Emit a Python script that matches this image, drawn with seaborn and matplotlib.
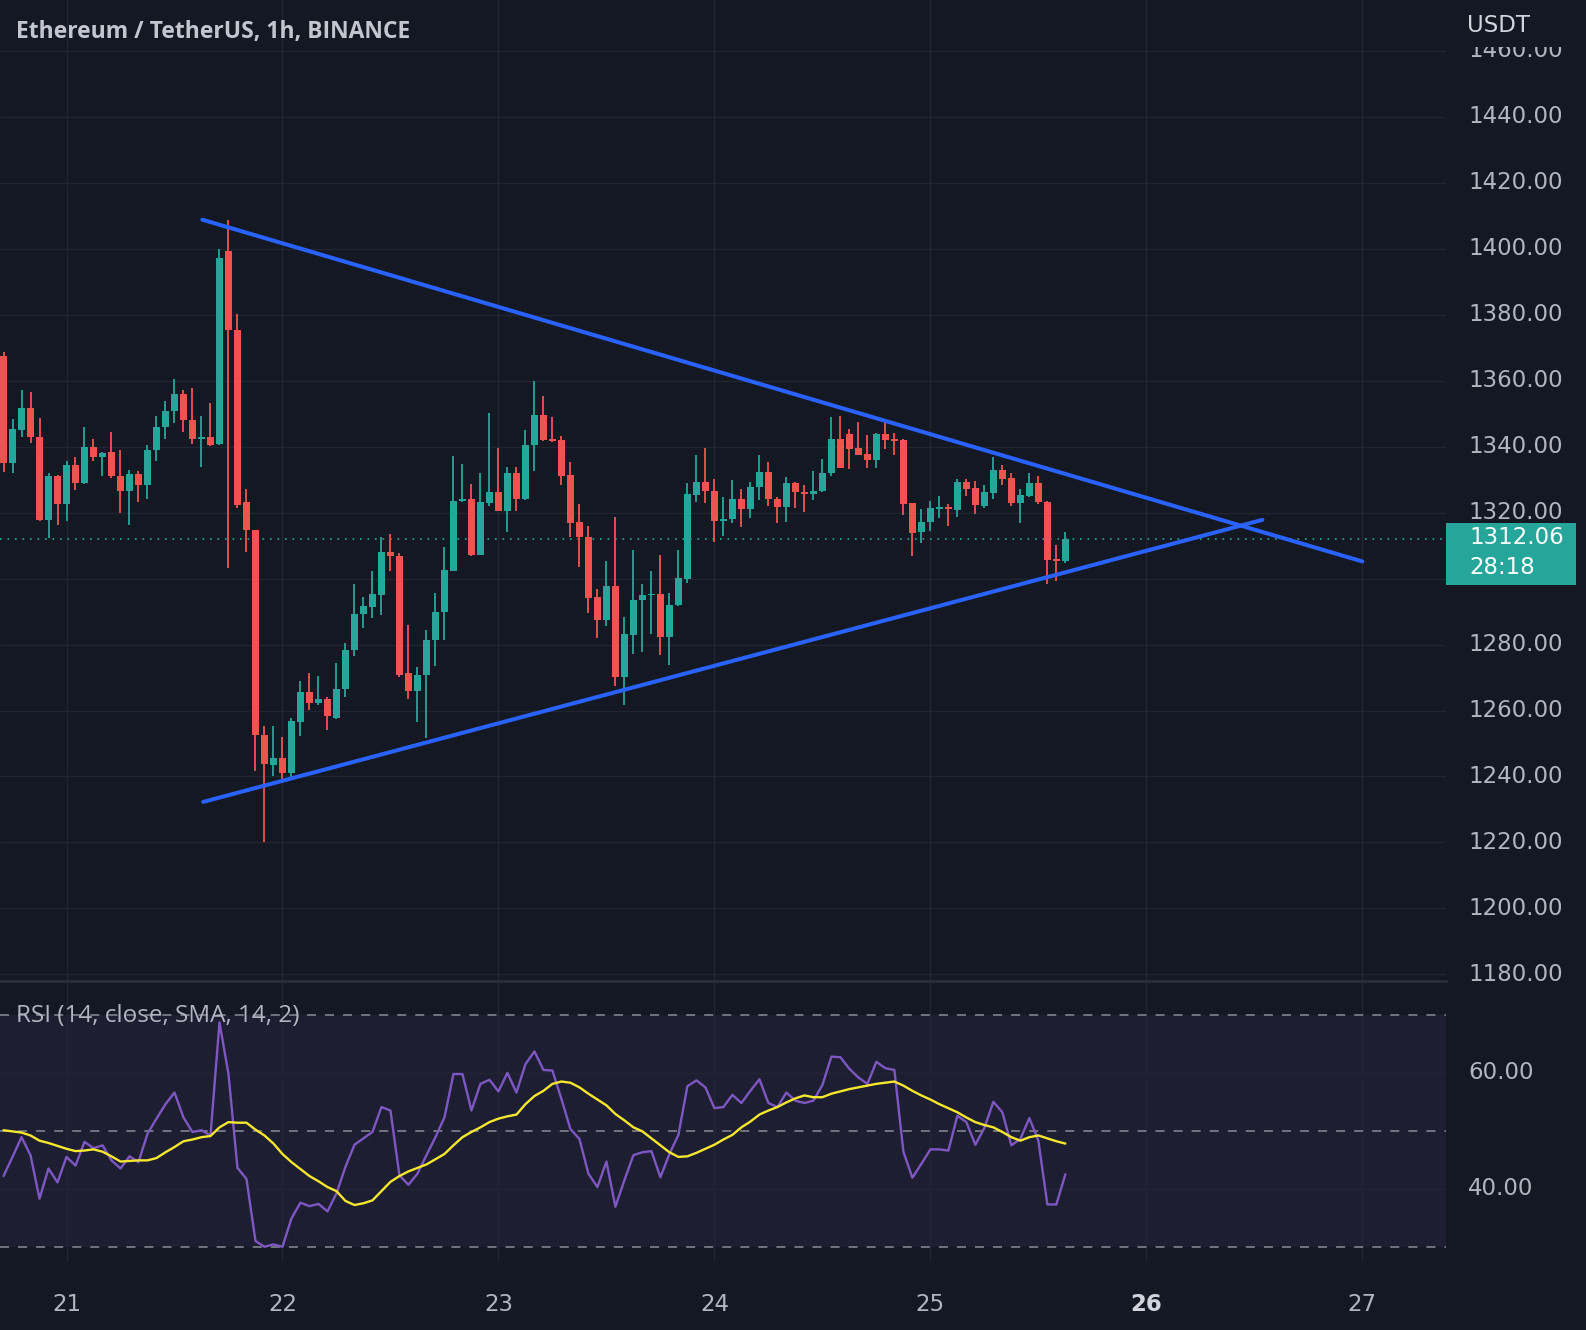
import numpy as np
import pandas as pd
import seaborn as sns
import matplotlib.pyplot as plt
from matplotlib.patches import Rectangle

# ETH/USDT 1h candles (Binance), first candle = 20 Oct 17:00
# x axis is counted in hours from 21 Oct 00:00
first_hour = -7

opens = [1367.4, 1335.0, 1345.0, 1351.8, 1343.0, 1317.8, 1331.0, 1322.5, 1334.3, 1328.9,
         1339.9, 1336.8, 1338.3, 1331.0, 1326.6, 1331.7, 1328.5, 1338.9, 1346.0, 1350.8,
         1356.1, 1348.1, 1342.3, 1343.0, 1340.8, 1399.4, 1375.3, 1323.2, 1314.8, 1252.7,
         1243.5, 1245.5, 1241.0, 1256.4, 1265.5, 1262.4, 1263.4, 1257.7, 1266.5, 1278.2,
         1289.3, 1291.5, 1295.1, 1308.2, 1306.9, 1271.3, 1265.8, 1270.8, 1281.4, 1289.8,
         1302.4, 1323.4, 1324.0, 1307.2, 1322.8, 1326.2, 1320.6, 1331.9, 1324.0, 1340.5,
         1349.6, 1342.2, 1342.0, 1331.4, 1317.1, 1312.5, 1294.5, 1287.3, 1297.8, 1270.3,
         1282.9, 1293.5, 1294.9, 1295.3, 1282.2, 1292.0, 1299.8, 1325.4, 1329.4, 1326.7,
         1317.6, 1318.0, 1324.0, 1321.2, 1327.7, 1332.2, 1324.0, 1321.8, 1328.9, 1326.2,
         1325.6, 1326.6, 1331.9, 1342.4, 1343.7, 1339.7, 1337.7, 1336.0, 1343.7, 1342.2,
         1342.0, 1322.8, 1314.1, 1317.0, 1321.2, 1321.8, 1320.8, 1329.3, 1327.6, 1322.0,
         1325.9, 1332.9, 1330.6, 1322.8, 1325.1, 1329.1, 1323.2, 1305.9, 1305.4]
highs = [1368.6, 1348.3, 1357.3, 1356.5, 1348.7, 1332.0, 1331.4, 1335.5, 1336.8, 1345.8,
         1342.4, 1338.3, 1344.5, 1338.9, 1333.0, 1332.6, 1340.4, 1349.3, 1353.7, 1360.6,
         1357.1, 1357.7, 1349.3, 1353.3, 1400.0, 1408.8, 1380.3, 1327.2, 1314.8, 1255.2,
         1255.2, 1252.0, 1257.7, 1268.8, 1271.3, 1270.5, 1264.0, 1274.5, 1280.4, 1298.4,
         1294.5, 1302.4, 1312.5, 1313.5, 1307.7, 1286.0, 1273.3, 1284.4, 1295.6, 1309.5,
         1337.2, 1334.7, 1328.7, 1331.9, 1350.1, 1339.5, 1333.7, 1333.7, 1345.1, 1360.0,
         1355.4, 1348.9, 1343.2, 1335.4, 1322.5, 1315.8, 1296.8, 1305.4, 1318.8, 1288.3,
         1308.7, 1298.4, 1302.4, 1307.2, 1295.6, 1308.7, 1328.9, 1337.5, 1339.5, 1330.1,
         1324.6, 1329.9, 1327.2, 1329.4, 1337.5, 1335.2, 1324.8, 1330.7, 1329.4, 1328.4,
         1332.6, 1336.4, 1349.1, 1349.3, 1345.3, 1347.5, 1343.4, 1344.2, 1348.1, 1344.0,
         1342.2, 1322.8, 1321.0, 1323.5, 1325.1, 1322.5, 1330.1, 1330.1, 1329.6, 1328.3,
         1337.0, 1334.3, 1332.1, 1327.1, 1331.9, 1331.1, 1323.5, 1310.1, 1314.1]
lows = [1332.2, 1332.0, 1343.0, 1341.0, 1317.6, 1312.2, 1316.1, 1317.4, 1327.0, 1328.7,
        1335.5, 1331.0, 1330.5, 1319.8, 1316.3, 1323.2, 1324.2, 1335.5, 1342.3, 1347.3,
        1344.3, 1340.8, 1333.9, 1340.1, 1340.5, 1303.1, 1321.3, 1308.2, 1241.6, 1220.0,
        1240.1, 1238.0, 1239.5, 1252.3, 1260.2, 1261.7, 1254.2, 1257.4, 1264.2, 1276.4,
        1285.0, 1288.0, 1289.0, 1302.4, 1270.1, 1263.4, 1256.4, 1251.7, 1273.5, 1281.4,
        1302.2, 1323.3, 1306.7, 1307.2, 1322.0, 1320.6, 1314.2, 1320.6, 1323.8, 1332.7,
        1341.8, 1341.4, 1328.4, 1312.7, 1303.6, 1289.5, 1281.9, 1285.5, 1267.5, 1261.7,
        1277.2, 1277.6, 1283.2, 1276.9, 1273.8, 1291.7, 1298.8, 1323.3, 1323.0, 1311.2,
        1312.9, 1316.8, 1315.6, 1318.3, 1323.8, 1322.0, 1316.8, 1317.0, 1321.3, 1320.3,
        1323.8, 1326.3, 1331.1, 1333.4, 1333.1, 1337.4, 1333.6, 1333.6, 1339.4, 1337.4,
        1319.2, 1306.7, 1310.7, 1314.4, 1318.5, 1316.0, 1318.8, 1325.1, 1319.5, 1321.5,
        1324.2, 1328.3, 1322.0, 1316.8, 1324.8, 1322.5, 1298.3, 1299.3, 1304.8]
closes = [1335.0, 1345.2, 1351.8, 1342.8, 1317.8, 1331.0, 1322.5, 1334.3, 1328.9, 1339.9,
          1336.8, 1338.0, 1331.0, 1326.6, 1331.7, 1328.5, 1338.9, 1346.0, 1350.8, 1356.1,
          1348.1, 1342.3, 1343.0, 1340.5, 1397.2, 1375.3, 1322.2, 1314.8, 1252.7, 1243.8,
          1245.7, 1241.0, 1256.7, 1265.5, 1262.4, 1263.4, 1258.2, 1266.5, 1278.4, 1289.3,
          1291.7, 1295.4, 1308.2, 1306.7, 1270.8, 1265.8, 1270.8, 1281.4, 1289.8, 1302.6,
          1323.5, 1324.0, 1307.2, 1323.1, 1326.2, 1320.6, 1331.9, 1324.0, 1340.5, 1349.6,
          1342.0, 1341.6, 1331.1, 1316.8, 1312.5, 1294.2, 1287.3, 1297.8, 1270.3, 1283.2,
          1293.5, 1295.0, 1295.3, 1282.2, 1292.0, 1300.1, 1325.7, 1329.4, 1326.7, 1317.6,
          1318.2, 1324.0, 1321.2, 1327.7, 1332.2, 1324.0, 1321.8, 1328.9, 1326.1, 1325.6,
          1326.7, 1331.9, 1342.4, 1333.6, 1339.4, 1337.4, 1336.0, 1343.9, 1342.0, 1341.7,
          1322.5, 1313.9, 1317.0, 1321.5, 1321.8, 1321.0, 1329.3, 1327.3, 1322.2, 1326.1,
          1332.9, 1330.1, 1322.8, 1325.3, 1329.1, 1323.2, 1305.7, 1305.4, 1312.06]

# RSI(14) and its SMA(14), one value per candle
rsi = [42.2, 45.5, 48.9, 45.8, 38.3, 43.5, 41.1, 45.5, 44.0, 48.1,
       47.0, 47.5, 44.9, 43.5, 45.6, 44.6, 49.5, 52.1, 54.6, 56.6,
       52.3, 49.8, 50.1, 49.2, 68.7, 59.8, 43.6, 41.7, 31.0, 30.0,
       30.4, 30.0, 34.9, 37.6, 37.0, 37.4, 36.1, 39.2, 43.8, 47.6,
       48.7, 49.8, 54.1, 53.5, 42.3, 40.7, 42.6, 45.8, 48.9, 52.3,
       59.8, 59.8, 53.5, 58.1, 58.8, 56.8, 60.0, 56.6, 61.5, 63.7,
       60.5, 60.4, 55.5, 50.3, 48.6, 42.6, 40.3, 44.7, 36.9, 41.5,
       45.8, 46.3, 46.5, 42.0, 46.0, 49.3, 57.7, 58.7, 57.5, 53.9,
       54.1, 56.2, 54.8, 56.9, 58.9, 54.8, 54.1, 56.6, 55.2, 54.8,
       55.2, 57.9, 62.8, 62.7, 60.7, 59.2, 58.1, 61.9, 60.8, 60.5,
       46.4, 41.9, 44.3, 46.8, 46.8, 46.6, 52.6, 51.5, 47.6, 50.5,
       55.0, 53.2, 47.5, 48.6, 52.2, 48.3, 37.3, 37.3, 42.5]
rsi_ma = [50.1, 49.9, 49.7, 49.2, 48.3, 47.9, 47.4, 46.9, 46.5, 46.6,
          46.8, 46.4, 45.6, 44.7, 44.8, 44.9, 44.9, 45.3, 46.3, 47.2,
          48.2, 48.5, 48.9, 49.1, 50.6, 51.5, 51.4, 51.4, 50.2, 49.2,
          47.8, 46.0, 44.6, 43.4, 42.2, 41.3, 40.3, 39.6, 37.9, 37.2,
          37.5, 38.0, 39.6, 41.2, 42.2, 43.0, 43.6, 44.2, 45.1, 46.0,
          47.5, 48.9, 49.8, 50.6, 51.5, 52.1, 52.5, 52.8, 54.6, 56.0,
          56.9, 58.1, 58.5, 58.3, 57.5, 56.4, 55.4, 54.4, 52.9, 51.8,
          50.6, 49.9, 48.7, 47.5, 46.3, 45.5, 45.6, 46.2, 46.9, 47.6,
          48.5, 49.3, 50.6, 51.6, 52.8, 53.5, 54.1, 54.9, 55.6, 56.1,
          55.8, 55.8, 56.4, 56.8, 57.2, 57.5, 57.8, 58.1, 58.3, 58.5,
          57.8, 56.9, 56.1, 55.4, 54.6, 53.9, 53.2, 52.3, 51.5, 51.0,
          50.6, 49.8, 48.9, 48.3, 48.9, 49.2, 48.7, 48.2, 47.8]

day_ticks = [0, 24, 48, 72, 96, 120, 144]
day_labels = ['21', '22', '23', '24', '25', '26', '27']
price_ticks = list(range(1180, 1461, 20))
rsi_ticks = [60, 40]
rsi_bands = [70, 50, 30]

# the drawn triangle, (hour, price) at both ends
upper_x = [15.1, 144.0]
upper_y = [1408.8, 1305.2]
lower_x = [15.2, 132.9]
lower_y = [1232.3, 1317.8]

timer_text = '28:18'

bg = '#141823'
grid_col = '#21252f'
txt_col = '#B2B5BE'
up_col = '#26A69A'
down_col = '#EF5350'

sns.set_theme(style='dark', rc={'axes.facecolor': bg, 'figure.facecolor': bg})
plt.rcParams['font.family'] = ['DejaVu Sans']

df = pd.DataFrame({'open': opens, 'high': highs, 'low': lows, 'close': closes,
                   'rsi': rsi, 'rsi_ma': rsi_ma})
df['hour'] = first_hour + np.arange(len(df))
df['up'] = df['close'] >= df['open']
df['color'] = np.where(df['up'], up_col, down_col)
df['body_lo'] = df[['open', 'close']].min(axis=1)
df['body_h'] = (df['close'] - df['open']).abs().clip(lower=0.35)

W, H = 1586, 1330
fig = plt.figure(figsize=(W / 100, H / 100), dpi=100)


def px_box(x0, y0, x1, y1):
    return [x0 / W, 1 - y1 / H, (x1 - x0) / W, (y1 - y0) / H]


ax = fig.add_axes(px_box(0, 0, 1446, 981))
axr = fig.add_axes(px_box(0, 983, 1446, 1262), sharex=ax)
pax = fig.add_axes(px_box(1446, 0, 1586, 981), sharey=ax)
prax = fig.add_axes(px_box(1446, 983, 1586, 1262), sharey=axr)

# candles
ax.vlines(df['hour'], df['low'], df['high'], colors=df['color'], lw=1.3, zorder=3)
ax.bar(df['hour'], df['body_h'], bottom=df['body_lo'], width=0.78,
       color=df['color'], lw=0, zorder=4)
ax.axhline(closes[-1], color=up_col, lw=1.2, ls=(0, (1, 3.5)), zorder=2)
ax.plot(upper_x, upper_y, color='#2962FF', lw=2.9, solid_capstyle='round', zorder=5)
ax.plot(lower_x, lower_y, color='#2962FF', lw=2.9, solid_capstyle='round', zorder=5)

ax.set_xlim(-7.39, 153.3)
ax.set_ylim(1178.0, 1475.4)
ax.set_yticks(price_ticks)
ax.set_xticks(day_ticks)
ax.grid(True, color=grid_col, lw=1)
ax.set_axisbelow(True)
ax.tick_params(left=False, labelleft=False, bottom=False, labelbottom=False)
for s in ax.spines.values():
    s.set_visible(False)
ax.spines['bottom'].set_visible(True)
ax.spines['bottom'].set_color('#2A2E39')
ax.spines['bottom'].set_linewidth(2)

# RSI pane
axr.axhspan(30, 70, color='#7E57C2', alpha=0.1, lw=0, zorder=0)
for b in rsi_bands:
    axr.axhline(b, color='#787B86', lw=1.3, ls=(0, (5, 5)), zorder=1)
sns.lineplot(data=df, x='hour', y='rsi', ax=axr, color='#7E57C2', lw=1.7, zorder=3)
sns.lineplot(data=df, x='hour', y='rsi_ma', ax=axr, color='#F5E72E', lw=1.7, zorder=4)
axr.set_ylim(27.37, 75.5)
axr.set_yticks(rsi_ticks)
axr.set_xticks(day_ticks, day_labels)
axr.set_xlabel('')
axr.set_ylabel('')
axr.grid(True, color=grid_col, lw=1)
axr.set_axisbelow(True)
axr.tick_params(left=False, labelleft=False)
axr.tick_params(axis='x', length=0, pad=22, labelsize=16.5, labelcolor=txt_col)
for lbl in axr.get_xticklabels():
    if lbl.get_text() == '26':
        lbl.set_fontweight('bold')
        lbl.set_color('#D1D4DC')
for s in axr.spines.values():
    s.set_visible(False)

# price scales
for a in (pax, prax):
    a.set_xlim(0, 1)
    a.axis('off')
for p in price_ticks:
    pax.text(0.157, p, f'{p:.2f}', ha='left', va='center', fontsize=16.5,
             color=txt_col, clip_on=True)
for r in rsi_ticks:
    prax.text(0.157, r, f'{r:.2f}', ha='left', va='center', fontsize=16.5,
              color=txt_col, clip_on=True)

last = closes[-1]
pax.add_patch(Rectangle((0, last - 14.0), 0.929, 18.9, color=up_col, lw=0, zorder=5))
pax.text(0.17, last + 0.3, f'{last:.2f}', ha='left', va='center', fontsize=16.5,
         color='white', zorder=6)
pax.text(0.17, last - 8.6, timer_text, ha='left', va='center', fontsize=16.5,
         color='white', zorder=6)

fig.add_artist(Rectangle((1446 / W, 1 - 47 / H), 140 / W, 47 / H,
                         transform=fig.transFigure, color=bg, lw=0, zorder=5))
fig.text(1467 / W, 1 - 26 / H, 'USDT', ha='left', va='center', fontsize=16.5,
         color='#D1D4DC', zorder=6)

fig.text(16 / W, 1 - 32 / H, 'Ethereum / TetherUS, 1h, BINANCE', ha='left', va='center',
         fontsize=16.5, fontweight='bold', color='#C3C6CE',
         family=['Open Sans', 'DejaVu Sans'])
fig.text(16 / W, 1 - 1016 / H, 'RSI (14, close, SMA, 14, 2)', ha='left', va='center',
         fontsize=17.5, color=txt_col, family=['Open Sans', 'DejaVu Sans'])

fig.savefig('out.png', dpi=100, facecolor=bg)
